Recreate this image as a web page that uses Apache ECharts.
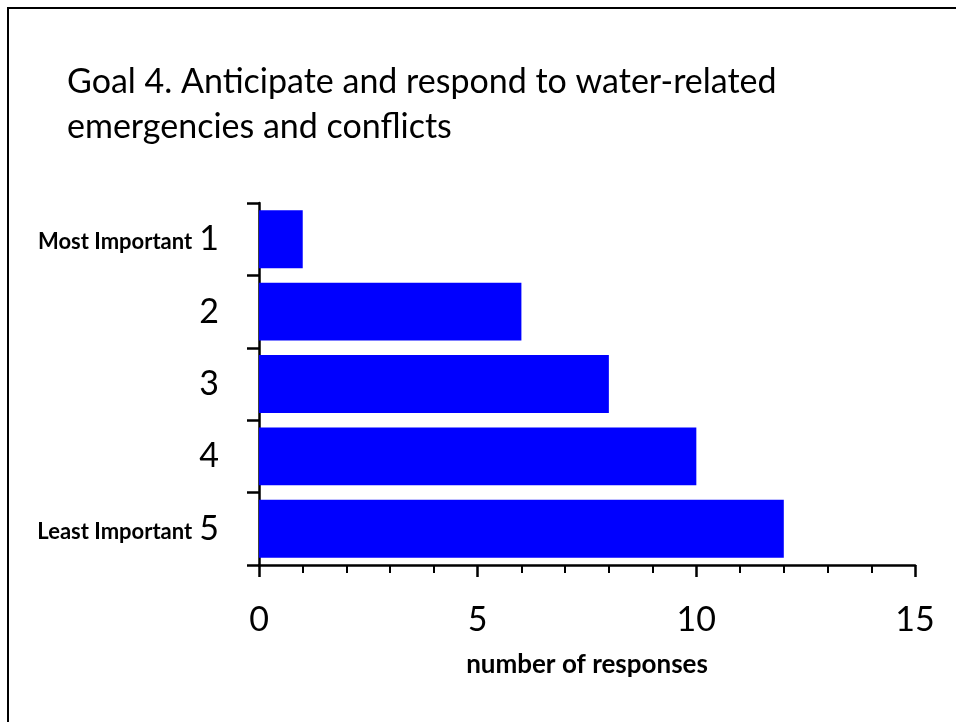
<!DOCTYPE html>
<html>
<head>
<meta charset="utf-8">
<script src="https://cdn.jsdelivr.net/npm/echarts@6/dist/echarts.min.js"></script>
<style>
  html, body { margin: 0; padding: 0; background: #fff; }
  #chart { width: 956px; height: 722px; }
</style>
</head>
<body>
<div id="chart"></div>
<script>
// rank categories (top to bottom)
const ranks = ['1', '2', '3', '4', '5']
// number of responses per rank
const responses = [1, 6, 8, 10, 12]
// text shown before the rank number
const rankNotes = { '1': 'Most Important', '5': 'Least Important' }

const titleLines = [
  'Goal 4. Anticipate and respond to water-related',
  'emergencies and conflicts',
]

const font = 'Lato, "Open Sans", sans-serif'
const chart = echarts.init(document.getElementById('chart'))

const option = {
  animation: false,
  backgroundColor: '#fff',
  textStyle: { fontFamily: font, color: '#000' },
  title: {
    text: titleLines.join('\n'),
    left: 62,
    top: 55,
    textStyle: {
      fontFamily: font,
      fontSize: 34,
      fontWeight: 'normal',
      color: '#000',
      lineHeight: 45,
    },
  },
  graphic: [{
    type: 'rect',
    shape: { x: 8, y: 8, width: 1000, height: 800 },
    style: { fill: 'none', stroke: '#000', lineWidth: 2 },
    silent: true,
  }],
  grid: { left: 259, right: 41, top: 203, bottom: 157 },
  xAxis: {
    type: 'value',
    min: 0,
    max: 15,
    interval: 5,
    name: 'number of responses',
    nameLocation: 'middle',
    nameGap: 87,
    nameTextStyle: { fontFamily: font, fontSize: 26, fontWeight: 'bold', color: '#000' },
    axisLine: { show: true, lineStyle: { color: '#000', width: 2.5 } },
    axisTick: { show: true, length: 12, lineStyle: { color: '#000', width: 2.5 } },
    minorTick: { show: true, splitNumber: 5, length: 8, lineStyle: { color: '#000', width: 2 } },
    splitLine: { show: false },
    axisLabel: { fontFamily: font, fontSize: 34, color: '#000', margin: 38 },
  },
  yAxis: {
    type: 'category',
    inverse: true,
    data: ranks,
    axisLine: { show: true, lineStyle: { color: '#000', width: 2.5 } },
    axisTick: { show: true, length: 12, lineStyle: { color: '#000', width: 2.5 } },
    axisLabel: {
      margin: 40,
      formatter: (v) => rankNotes[v] ? '{note|' + rankNotes[v] + '} {num|' + v + '}' : '{num|' + v + '}',
      rich: {
        note: { fontFamily: font, fontSize: 22, fontWeight: 'bold', color: '#000', padding: [6, 4, 0, 0] },
        num: { fontFamily: font, fontSize: 34, color: '#000' },
      },
    },
  },
  series: [{
    type: 'bar',
    data: responses,
    barWidth: '80%',
    itemStyle: { color: '#0000ff' },
  }],
}

chart.setOption(option)
</script>
</body>
</html>
